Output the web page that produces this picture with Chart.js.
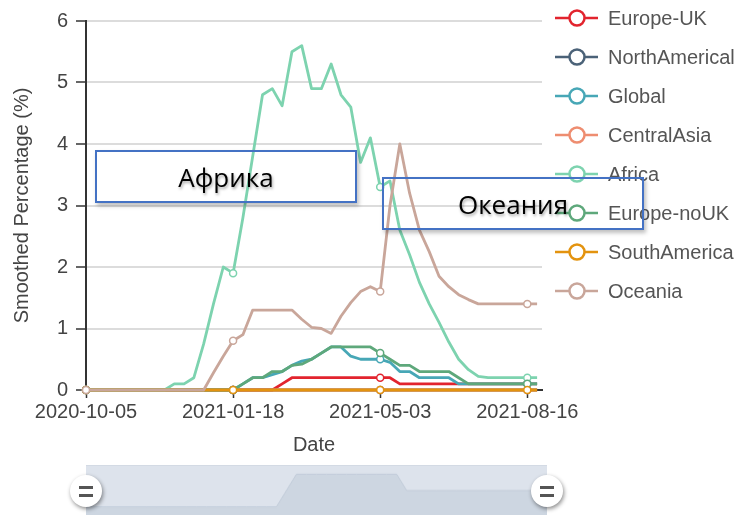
<!DOCTYPE html>
<html>
<head>
<meta charset="utf-8">
<script src="https://cdn.jsdelivr.net/npm/chart.js@4.4.1/dist/chart.umd.min.js"></script>
<style>
  body { margin: 0; background: #fff; }
  #wrap { position: relative; width: 744px; height: 515px; overflow: hidden; font-family: "Liberation Sans", Arial, sans-serif; }
  #main { position: absolute; left: 0; top: 0; }
  #zoom { position: absolute; left: 86px; top: 465px; background: #dde3ec; border-top: 1px solid #d3dae4; }
  .handle { position: absolute; top: 475px; width: 32px; height: 32px; border-radius: 50%; background: #fff; box-shadow: 1px 2px 4px rgba(0,0,0,0.45); }
  .handle i { position: absolute; left: 9px; width: 14px; height: 2.5px; background: #555; }
  .item { position: absolute; left: 555px; height: 24px; display: flex; align-items: center; }
  .item span { margin-left: 9px; font-size: 20px; color: #555; line-height: 24px; white-space: nowrap; }
  .note { position: absolute; width: 262px; height: 53px; box-sizing: border-box; border: 2px solid #4472c4;
          box-shadow: 2px 3px 4px rgba(0,0,0,0.25); display: flex; align-items: center; justify-content: center;
          font-family: "Open Sans", sans-serif; font-size: 26px; color: #000; text-shadow: 1px 2px 3px rgba(0,0,0,0.35); }
</style>
</head>
<body>
<div id="wrap">
  <canvas id="main" width="744" height="515"></canvas>
  <canvas id="zoom" width="461" height="50"></canvas>
  <div class="handle" style="left:70px"><i style="top:11px"></i><i style="top:19px"></i></div>
  <div class="handle" style="left:531px"><i style="top:11px"></i><i style="top:19px"></i></div>
  <div id="legend"></div>
  <div class="note" style="left:95px;top:150px">Африка</div>
  <div class="note" style="left:382px;top:177px">Океания</div>
</div>
<script>
const dates = [
  '2020-10-05', '2020-10-12', '2020-10-19', '2020-10-26', '2020-11-02', '2020-11-09', '2020-11-16', '2020-11-23',
  '2020-11-30', '2020-12-07', '2020-12-14', '2020-12-21', '2020-12-28', '2021-01-04', '2021-01-11', '2021-01-18',
  '2021-01-25', '2021-02-01', '2021-02-08', '2021-02-15', '2021-02-22', '2021-03-01', '2021-03-08', '2021-03-15',
  '2021-03-22', '2021-03-29', '2021-04-05', '2021-04-12', '2021-04-19', '2021-04-26', '2021-05-03', '2021-05-10',
  '2021-05-17', '2021-05-24', '2021-05-31', '2021-06-07', '2021-06-14', '2021-06-21', '2021-06-28', '2021-07-05',
  '2021-07-12', '2021-07-19', '2021-07-26', '2021-08-02', '2021-08-09', '2021-08-16', '2021-08-23'
];
const labelIdx = [0, 15, 30, 45];

const seriesNames = ['Europe-UK', 'NorthAmerical', 'Global', 'CentralAsia', 'Africa', 'Europe-noUK', 'SouthAmerica', 'Oceania'];
const seriesColors = ['#e2242e', '#4b6278', '#47a7b6', '#ee8d70', '#7dd3af', '#5ea87b', '#e3930f', '#c9a69a'];

const europeUK = [0, 0, 0, 0, 0, 0, 0, 0, 0, 0, 0, 0, 0, 0, 0, 0, 0, 0, 0, 0, 0.1, 0.2, 0.2, 0.2,
  0.2, 0.2, 0.2, 0.2, 0.2, 0.2, 0.2, 0.2, 0.1, 0.1, 0.1, 0.1, 0.1, 0.1, 0.1, 0.1, 0.1, 0.1, 0.1, 0.1, 0.1, 0.1, 0.1];
const northAmerical = [0, 0, 0, 0, 0, 0, 0, 0, 0, 0, 0, 0, 0, 0, 0, 0, 0, 0, 0, 0, 0, 0, 0, 0,
  0, 0, 0, 0, 0, 0, 0, 0, 0, 0, 0, 0, 0, 0, 0, 0, 0, 0, 0, 0, 0, 0, 0];
const global = [0, 0, 0, 0, 0, 0, 0, 0, 0, 0, 0, 0, 0, 0, 0, 0, 0.1, 0.2, 0.2, 0.25, 0.3, 0.4, 0.47, 0.5,
  0.6, 0.7, 0.7, 0.55, 0.5, 0.5, 0.5, 0.45, 0.3, 0.3, 0.2, 0.2, 0.2, 0.2, 0.1, 0.1, 0.1, 0.1, 0.1, 0.1, 0.1, 0.1, 0.1];
const centralAsia = [0, 0, 0, 0, 0, 0, 0, 0, 0, 0, 0, 0, 0, 0, 0, 0, 0, 0, 0, 0, 0, 0, 0, 0,
  0, 0, 0, 0, 0, 0, 0, 0, 0, 0, 0, 0, 0, 0, 0, 0, 0, 0, 0, 0, 0, 0, 0];
const africa = [0, 0, 0, 0, 0, 0, 0, 0, 0, 0.1, 0.1, 0.2, 0.75, 1.4, 2.0, 1.9, 2.8, 3.8, 4.8, 4.9, 4.62, 5.5, 5.6, 4.9,
  4.9, 5.3, 4.8, 4.6, 3.7, 4.1, 3.3, 3.4, 2.6, 2.2, 1.75, 1.4, 1.1, 0.78, 0.5, 0.33, 0.22, 0.2, 0.2, 0.2, 0.2, 0.2, 0.2];
const europeNoUK = [0, 0, 0, 0, 0, 0, 0, 0, 0, 0, 0, 0, 0, 0, 0, 0, 0.1, 0.2, 0.2, 0.3, 0.3, 0.4, 0.42, 0.5,
  0.6, 0.7, 0.7, 0.7, 0.7, 0.7, 0.6, 0.5, 0.4, 0.4, 0.3, 0.3, 0.3, 0.3, 0.2, 0.1, 0.1, 0.1, 0.1, 0.1, 0.1, 0.1, 0.1];
const southAmerica = [0, 0, 0, 0, 0, 0, 0, 0, 0, 0, 0, 0, 0, 0, 0, 0, 0, 0, 0, 0, 0, 0, 0, 0,
  0, 0, 0, 0, 0, 0, 0, 0, 0, 0, 0, 0, 0, 0, 0, 0, 0, 0, 0, 0, 0, 0, 0];
const oceania = [0, 0, 0, 0, 0, 0, 0, 0, 0, 0, 0, 0, 0, 0.28, 0.55, 0.8, 0.9, 1.3, 1.3, 1.3, 1.3, 1.3, 1.15, 1.02,
  1.0, 0.92, 1.2, 1.42, 1.6, 1.68, 1.6, 3.0, 4.0, 3.2, 2.6, 2.25, 1.85, 1.68, 1.55, 1.47, 1.4, 1.4, 1.4, 1.4, 1.4, 1.4, 1.4];

const seriesData = [europeUK, northAmerical, global, centralAsia, africa, europeNoUK, southAmerica, oceania];

const FONT = '"Liberation Sans", Arial, sans-serif';

// legend (line + hollow circle icons)
const legend = document.getElementById('legend');
seriesNames.forEach((name, i) => {
    const c = seriesColors[i];
    const item = document.createElement('div');
    item.className = 'item';
    item.style.top = (18.3 + i * 39 - 12) + 'px';
    item.innerHTML = `<svg width="44" height="24"><line x1="0" y1="12" x2="43" y2="12" stroke="${c}" stroke-width="2.5"/>` +
        `<circle cx="22" cy="12" r="7.5" fill="#fff" stroke="${c}" stroke-width="2.5"/></svg><span>${name}</span>`;
    legend.appendChild(item);
});

// main chart
new Chart(document.getElementById('main'), {
    type: 'line',
    data: {
        datasets: seriesNames.map((name, i) => ({
            label: name,
            data: seriesData[i].map((v, k) => ({ x: k, y: v })),
            borderColor: seriesColors[i],
            backgroundColor: '#fff',
            borderWidth: 2.8,
            borderJoinStyle: 'round',
            pointRadius: ctx => labelIdx.includes(ctx.dataIndex) ? 3.5 : 0,
            pointBorderWidth: 1.5,
            pointBackgroundColor: '#fff',
            pointBorderColor: seriesColors[i],
            order: seriesNames.length - i,
            clip: false
        }))
    },
    options: {
        responsive: false,
        animation: false,
        devicePixelRatio: 1,
        layout: { padding: { left: 0, top: 21, right: 202, bottom: 45 } },
        plugins: { legend: { display: false }, tooltip: { enabled: false } },
        scales: {
            x: {
                type: 'linear',
                min: 0,
                max: 46.5,
                afterBuildTicks: s => { s.ticks = labelIdx.map(v => ({ value: v })); },
                afterFit: s => { s.height = 80; },
                ticks: {
                    callback: v => dates[v],
                    maxRotation: 0,
                    autoSkip: false,
                    padding: 2,
                    color: '#444',
                    font: { size: 20, family: FONT }
                },
                grid: { drawOnChartArea: false, tickLength: 8, tickColor: '#333', tickWidth: 1.5 },
                border: { color: '#333', width: 2 },
                title: { display: true, text: 'Date', color: '#444', font: { size: 20, family: FONT }, padding: { top: 0, bottom: 13 } }
            },
            y: {
                min: 0,
                max: 6,
                afterFit: s => { s.width = 86; },
                ticks: { stepSize: 1, padding: 8, color: '#444', font: { size: 20, family: FONT } },
                grid: {
                    color: ctx => ctx.tick && ctx.tick.value === 0 ? '#333' : '#dcdcdc',
                    lineWidth: 2,
                    tickLength: 10,
                    tickColor: '#333',
                    tickWidth: 1.5
                },
                border: { color: '#333', width: 2 },
                title: { display: true, text: 'Smoothed Percentage (%)', color: '#444', font: { size: 20, family: FONT }, padding: { top: 10, bottom: 0 } }
            }
        }
    }
});

// data zoom slider with shadow of the first series
new Chart(document.getElementById('zoom'), {
    type: 'line',
    data: {
        datasets: [{
            data: europeUK.map((v, k) => ({ x: k, y: v })),
            fill: 'start',
            backgroundColor: '#cdd6e1',
            borderColor: '#c2ccd9',
            borderWidth: 1,
            pointRadius: 0
        }]
    },
    options: {
        responsive: false,
        animation: false,
        devicePixelRatio: 1,
        layout: { padding: 0 },
        plugins: { legend: { display: false }, tooltip: { enabled: false } },
        scales: {
            x: { type: 'linear', display: false, min: 0, max: 46 },
            y: { display: false, min: -0.05, max: 0.25 }
        }
    }
});
</script>
</body>
</html>
